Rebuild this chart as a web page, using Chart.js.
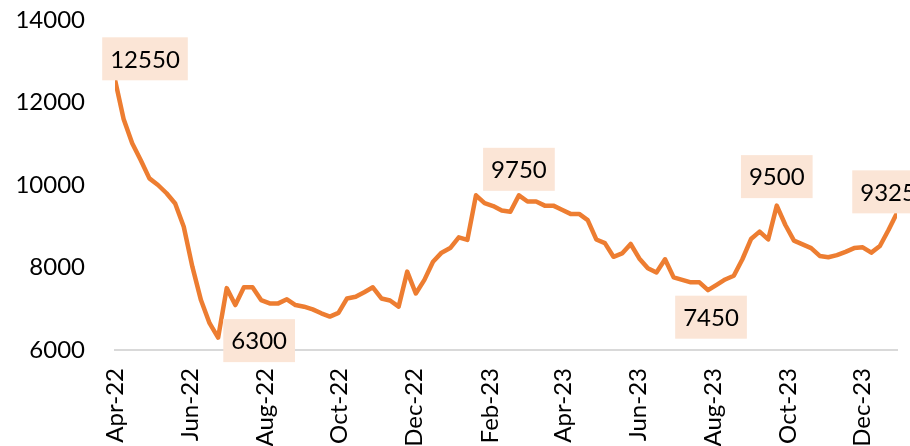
<!DOCTYPE html>
<html>
<head>
<meta charset="utf-8">
<script src="https://cdn.jsdelivr.net/npm/chart.js@4"></script>
<style>
  body { margin: 0; background: #fff; }
  canvas { display: block; }
</style>
</head>
<body>
<canvas id="priceChart" width="910" height="446"></canvas>
<script>
// weekly series, first week starts 1 Apr 2022
const startDate = "2022-04-01";
const values = [
  12550, 11600, 11010, 10600, 10160, 10000, 9800, 9550, 8990, 8020,
  7210, 6650, 6300, 7500, 7090, 7520, 7520, 7210, 7130, 7130,
  7230, 7090, 7050, 6985, 6890, 6810, 6900, 7250, 7290, 7400,
  7520, 7250, 7200, 7050, 7900, 7370, 7700, 8140, 8360, 8470,
  8730, 8670, 9750, 9560, 9490, 9380, 9350, 9750, 9600, 9600,
  9500, 9500, 9400, 9300, 9300, 9150, 8680, 8590, 8260, 8340,
  8570, 8220, 7980, 7880, 8200, 7760, 7700, 7640, 7640, 7450,
  7580, 7710, 7800, 8200, 8690, 8870, 8680, 9500, 9030, 8650,
  8560, 8470, 8280, 8250, 8300, 8380, 8470, 8490, 8360, 8520,
  8910, 9325
];
// points that carry a value label
const labelIdx = [0, 12, 47, 69, 77, 91];

const tickLabels = ["Apr-22", "Jun-22", "Aug-22", "Oct-22", "Dec-22", "Feb-23",
                    "Apr-23", "Jun-23", "Aug-23", "Oct-23", "Dec-23"];
const tickDates = ["2022-04-01", "2022-06-01", "2022-08-01", "2022-10-01", "2022-12-01", "2023-02-01",
                   "2023-04-01", "2023-06-01", "2023-08-01", "2023-10-01", "2023-12-01"];
const yTicks = [6000, 8000, 10000, 12000, 14000];

const DAY = 86400000;
const t0 = Date.parse(startDate);
const weekDays = values.map((v, i) => i * 7);
const tickDays = tickDates.map(d => Math.round((Date.parse(d) - t0) / DAY));

const FONT = "Lato, 'Open Sans', sans-serif";

// box offsets of each value label relative to its point
const boxOffset = {
  0: [30, -21],
  12: [41, 3],
  47: [0, -26],
  69: [3, 27],
  77: [0, -29],
  91: [-9, -21]
};

const valueLabels = {
  id: "valueLabels",
  afterDatasetsDraw(chart) {
    const c = chart.ctx;
    const meta = chart.getDatasetMeta(0);
    c.save();
    c.font = "24px " + FONT;
    c.textAlign = "center";
    c.textBaseline = "middle";
    labelIdx.forEach(i => {
      const p = meta.data[i];
      const txt = String(values[i]);
      const w = c.measureText(txt).width + 16;
      const h = 43;
      const off = boxOffset[i] || [0, -26];
      const cx = p.x + off[0], cy = p.y + off[1];
      c.fillStyle = "#fbe5d6";
      c.fillRect(cx - w / 2, cy - h / 2, w, h);
      c.fillStyle = "#000";
      c.fillText(txt, cx, cy + 1);
    });
    c.restore();
  }
};

new Chart(document.getElementById("priceChart"), {
  type: "line",
  data: {
    datasets: [{
      data: values.map((v, i) => ({ x: weekDays[i], y: v })),
      borderColor: "#ed7d31",
      borderWidth: 4.5,
      borderJoinStyle: "round",
      borderCapStyle: "round",
      pointRadius: 0,
      tension: 0,
      fill: false
    }]
  },
  options: {
    responsive: false,
    animation: false,
    layout: { padding: { top: 20, right: 11, left: 0, bottom: 0 } },
    plugins: { legend: { display: false }, tooltip: { enabled: false } },
    scales: {
      x: {
        type: "linear",
        min: 0,
        max: weekDays[weekDays.length - 1],
        afterBuildTicks: s => { s.ticks = tickDays.map(v => ({ value: v })); },
        afterFit: s => { s.height = 96; },
        grid: { display: false, drawTicks: false },
        border: { display: true, color: "#d9d9d9", width: 2 },
        ticks: {
          autoSkip: false,
          minRotation: 90,
          maxRotation: 90,
          padding: 18,
          color: "#000",
          font: { family: FONT, size: 24 },
          callback: v => tickLabels[tickDays.indexOf(v)]
        }
      },
      y: {
        min: 6000,
        max: 14000,
        afterBuildTicks: s => { s.ticks = yTicks.map(v => ({ value: v })); },
        // fixed width; keep the tick padding out of the top/bottom padding
        afterFit: s => { s.width = 115; s.paddingTop = 14; s.paddingBottom = 14; },
        grid: { display: false, drawTicks: false },
        border: { display: false },
        ticks: {
          padding: 30,
          color: "#000",
          font: { family: FONT, size: 24 },
          callback: v => String(v)
        }
      }
    }
  },
  plugins: [valueLabels]
});
</script>
</body>
</html>
